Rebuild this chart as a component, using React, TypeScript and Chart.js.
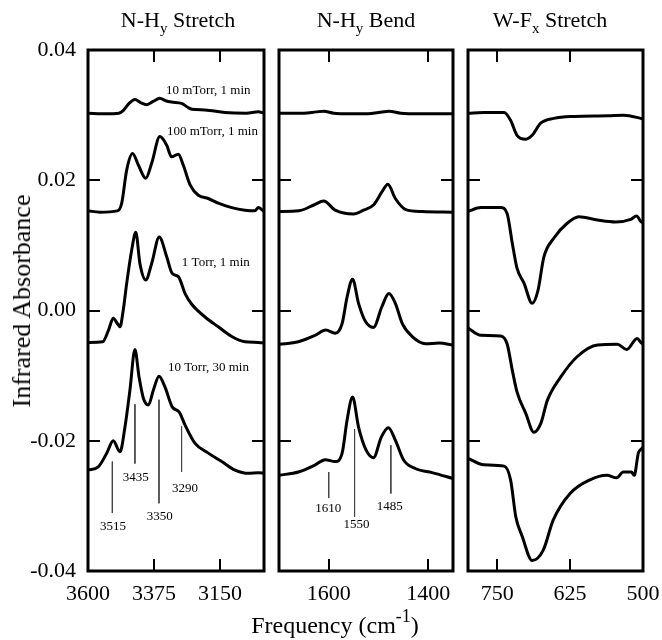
import React, { useEffect, useRef } from 'react';
import { Chart, registerables } from 'chart.js';
Chart.register(...registerables);

const FONT = '"Liberation Serif", "Times New Roman", serif';

// ---- axes ----
const yRange = [-0.04, 0.04];
const yTicks = [0.04, 0.02, 0, -0.02, -0.04];
const yTickLabels = ['0.04', '0.02', '0.00', '-0.02', '-0.04'];

const stretchRange = [3000, 3600];
const stretchTicks = [3600, 3375, 3150];
const bendRange = [1350, 1700];
const bendTicks = [1600, 1400];
const wfRange = [500, 800];
const wfTicks = [750, 625, 500];

// ---- N-Hy stretch spectra [cm-1, absorbance] ----
const stretch10mTorr = [
  [3600, 0.0303], [3540, 0.0302], [3495, 0.0303], [3480, 0.0307], [3460, 0.0318], [3440, 0.0324],
  [3420, 0.0319], [3400, 0.0316], [3378, 0.0321], [3355, 0.0326], [3335, 0.0322], [3315, 0.0320],
  [3281, 0.0318], [3260, 0.0312], [3246, 0.0309], [3201, 0.0308], [3133, 0.0304], [3060, 0.0303],
  [3019, 0.0305], [3000, 0.0303],
];
const stretch100mTorr = [
  [3600, 0.0153], [3560, 0.0151], [3500, 0.0153], [3485, 0.0165], [3468, 0.0216], [3448, 0.0241],
  [3428, 0.0223], [3403, 0.0203], [3383, 0.0226], [3355, 0.0267], [3332, 0.0254], [3315, 0.0236],
  [3292, 0.0240], [3275, 0.0223], [3252, 0.0193], [3224, 0.0177], [3190, 0.0172], [3156, 0.0165],
  [3110, 0.0158], [3065, 0.0154], [3031, 0.0153], [3019, 0.0158], [3000, 0.0152],
];
const stretch1Torr = [
  [3600, -0.0049], [3550, -0.0048], [3530, -0.0030], [3514, -0.0012], [3500, -0.0020], [3491, -0.0025],
  [3480, 0.0000], [3468, 0.0042], [3451, 0.0093], [3437, 0.0120], [3423, 0.0072], [3403, 0.0047],
  [3383, 0.0072], [3357, 0.0113], [3332, 0.0083], [3313, 0.0057], [3292, 0.0052], [3269, 0.0026],
  [3247, 0.0010], [3201, -0.0010], [3156, -0.0025], [3110, -0.0040], [3065, -0.0048], [3019, -0.0049],
  [3000, -0.0050],
];
const stretch10Torr = [
  [3600, -0.0245], [3565, -0.0240], [3536, -0.0219], [3514, -0.0200], [3491, -0.0217], [3474, -0.0179],
  [3457, -0.0122], [3440, -0.0060], [3426, -0.0102], [3411, -0.0135], [3394, -0.0145], [3377, -0.0122],
  [3358, -0.0101], [3338, -0.0117], [3313, -0.0148], [3289, -0.0156], [3269, -0.0176], [3235, -0.0204],
  [3190, -0.0219], [3144, -0.0232], [3099, -0.0245], [3053, -0.0250], [3019, -0.0249], [3000, -0.0250],
];

// ---- N-Hy bend spectra ----
const bend10mTorr = [
  [1700, 0.0303], [1650, 0.0303], [1625, 0.0305], [1610, 0.0306], [1590, 0.0303], [1560, 0.0302],
  [1530, 0.0302], [1500, 0.0304], [1479, 0.0306], [1455, 0.0303], [1420, 0.0302], [1350, 0.0302],
];
const bend100mTorr = [
  [1700, 0.0152], [1660, 0.0153], [1630, 0.0162], [1610, 0.0168], [1587, 0.0154], [1550, 0.0148],
  [1530, 0.0154], [1510, 0.0162], [1493, 0.0182], [1481, 0.0194], [1466, 0.0172], [1445, 0.0155],
  [1412, 0.0152], [1350, 0.0151],
];
const bend1Torr = [
  [1700, -0.0052], [1661, -0.0048], [1627, -0.0038], [1606, -0.0030], [1587, -0.0035], [1573, -0.0020],
  [1563, 0.0021], [1552, 0.0048], [1540, 0.0011], [1526, -0.0017], [1510, -0.0026], [1493, 0.0006],
  [1479, 0.0026], [1466, 0.0011], [1452, -0.0020], [1432, -0.0040], [1405, -0.0051], [1378, -0.0050],
  [1350, -0.0053],
];
const bend10Torr = [
  [1700, -0.0253], [1661, -0.0248], [1627, -0.0237], [1607, -0.0229], [1587, -0.0232], [1573, -0.0219],
  [1563, -0.0168], [1552, -0.0133], [1540, -0.0179], [1525, -0.0214], [1510, -0.0226], [1494, -0.0194],
  [1480, -0.0180], [1466, -0.0199], [1449, -0.0230], [1425, -0.0243], [1392, -0.0249], [1350, -0.0258],
];

// ---- W-Fx stretch spectra ----
const wf10mTorr = [
  [800, 0.0303], [773, 0.0304], [738, 0.0304], [727, 0.0292], [716, 0.0269], [701, 0.0263],
  [690, 0.0269], [675, 0.0288], [653, 0.0295], [618, 0.0298], [560, 0.0299], [533, 0.0300],
  [504, 0.0295], [500, 0.0294],
];
const wf100mTorr = [
  [800, 0.0152], [778, 0.0158], [744, 0.0158], [733, 0.0149], [724, 0.0103], [716, 0.0065],
  [704, 0.0042], [690, 0.0011], [680, 0.0031], [670, 0.0082], [653, 0.0111], [630, 0.0134],
  [610, 0.0144], [578, 0.0139], [547, 0.0136], [521, 0.0140], [511, 0.0145], [503, 0.0136],
  [500, 0.0135],
];
const wf1Torr = [
  [800, -0.0027], [778, -0.0038], [744, -0.0039], [733, -0.0051], [724, -0.0092], [716, -0.0125],
  [701, -0.0158], [687, -0.0187], [675, -0.0173], [664, -0.0138], [641, -0.0102], [613, -0.0071],
  [578, -0.0053], [544, -0.0052], [528, -0.0060], [510, -0.0043], [501, -0.0051], [500, -0.0051],
];
const wf10Torr = [
  [800, -0.0227], [773, -0.0237], [738, -0.0239], [727, -0.0260], [718, -0.0317], [707, -0.0347],
  [690, -0.0384], [671, -0.0368], [654, -0.0322], [625, -0.0281], [591, -0.0260], [562, -0.0253],
  [545, -0.0257], [534, -0.0248], [520, -0.0248], [515, -0.0253], [508, -0.0219], [502, -0.0212],
  [500, -0.0210],
];

// ---- annotations ----
const stretchNotes = ['10 mTorr, 1 min', '100 mTorr, 1 min', '1 Torr, 1 min', '10 Torr, 30 min'];
const stretchNoteX = [3334, 3331, 3280, 3327];
const stretchNoteY = [0.0337, 0.0274, 0.0073, -0.0087];

const stretchPeakLabels = ['3515', '3435', '3350', '3290'];
const stretchPeakX = [3517, 3440, 3358, 3281];
const stretchPeakTop = [-0.0232, -0.0144, -0.0137, -0.0178];
const stretchPeakBottom = [-0.0311, -0.0235, -0.0296, -0.0248];
const stretchPeakLabelX = [3515, 3437, 3355, 3269];
const stretchPeakLabelY = [-0.0332, -0.0256, -0.0317, -0.0273];

const bendPeakLabels = ['1610', '1550', '1485'];
const bendPeakX = [1600, 1548, 1475];
const bendPeakTop = [-0.0248, -0.0182, -0.0207];
const bendPeakBottom = [-0.0288, -0.0317, -0.0281];
const bendPeakLabelX = [1601, 1544, 1477];
const bendPeakLabelY = [-0.0304, -0.0328, -0.0301];

type Panel = {
  range: number[];
  ticks: number[];
  series: number[][][];
  left: number;
  right: number;
  showY: boolean;
  notes?: { text: string[]; x: number[]; y: number[] };
  markers?: { text: string[]; x: number[]; top: number[]; bottom: number[]; lx: number[]; ly: number[] };
};

const W = 662;
const H = 640;
const TOP = 50;
const BOTTOM = 571;

const panels: Panel[] = [
  {
    range: stretchRange, ticks: stretchTicks,
    series: [stretch10mTorr, stretch100mTorr, stretch1Torr, stretch10Torr],
    left: 88, right: 264, showY: true,
    notes: { text: stretchNotes, x: stretchNoteX, y: stretchNoteY },
    markers: { text: stretchPeakLabels, x: stretchPeakX, top: stretchPeakTop, bottom: stretchPeakBottom, lx: stretchPeakLabelX, ly: stretchPeakLabelY },
  },
  {
    range: bendRange, ticks: bendTicks,
    series: [bend10mTorr, bend100mTorr, bend1Torr, bend10Torr],
    left: 279, right: 453, showY: false,
    markers: { text: bendPeakLabels, x: bendPeakX, top: bendPeakTop, bottom: bendPeakBottom, lx: bendPeakLabelX, ly: bendPeakLabelY },
  },
  {
    range: wfRange, ticks: wfTicks,
    series: [wf10mTorr, wf100mTorr, wf1Torr, wf10Torr],
    left: 468, right: 643, showY: false,
  },
];

function framePlugin(p: Panel) {
  return {
    id: 'frame',
    afterDatasetsDraw(chart: any) {
      const { ctx, chartArea: a, scales } = chart;
      const xs = scales.x;
      const ys = scales.y;
      ctx.save();
      ctx.fillStyle = '#000';
      ctx.textBaseline = 'middle';
      if (p.notes) {
        ctx.font = `13px ${FONT}`;
        ctx.textAlign = 'left';
        p.notes.text.forEach((t, i) => {
          ctx.fillText(t, xs.getPixelForValue(p.notes!.x[i]), ys.getPixelForValue(p.notes!.y[i]));
        });
      }
      if (p.markers) {
        ctx.font = `13px ${FONT}`;
        ctx.textAlign = 'center';
        p.markers.text.forEach((t, i) => {
          ctx.fillText(t, xs.getPixelForValue(p.markers!.lx[i]), ys.getPixelForValue(p.markers!.ly[i]));
        });
      }
      ctx.strokeStyle = '#000';
      ctx.lineWidth = 2;
      ctx.beginPath();
      for (const v of p.ticks) {
        const px = Math.round(xs.getPixelForValue(v));
        if (px <= a.left + 3 || px >= a.right - 3) continue;
        ctx.moveTo(px, a.top);
        ctx.lineTo(px, a.top + 12);
        ctx.moveTo(px, a.bottom);
        ctx.lineTo(px, a.bottom - 12);
      }
      for (const v of yTicks) {
        const py = Math.round(ys.getPixelForValue(v));
        if (py <= a.top + 3 || py >= a.bottom - 3) continue;
        ctx.moveTo(a.left, py);
        ctx.lineTo(a.left + 12, py);
        ctx.moveTo(a.right, py);
        ctx.lineTo(a.right - 12, py);
      }
      ctx.stroke();
      ctx.lineWidth = 3;
      ctx.strokeRect(a.left, a.top, a.right - a.left, a.bottom - a.top);
      ctx.restore();
    },
  };
}

function buildChart(canvas: HTMLCanvasElement, p: Panel) {
  const datasets: any[] = p.series.map((s) => ({
    data: s.map(([x, y]) => ({ x, y })),
    borderColor: '#000',
    borderWidth: 3,
    pointRadius: 0,
    showLine: true,
    fill: false,
    cubicInterpolationMode: 'monotone',
    borderJoinStyle: 'round',
    borderCapStyle: 'round',
  }));
  if (p.markers) {
    p.markers.x.forEach((x, i) => {
      datasets.push({
        data: [{ x, y: p.markers!.top[i] }, { x, y: p.markers!.bottom[i] }],
        borderColor: '#444',
        borderWidth: 1,
        pointRadius: 0,
        showLine: true,
        fill: false,
      });
    });
  }
  return new Chart(canvas, {
    type: 'scatter',
    data: { datasets },
    plugins: [framePlugin(p)],
    options: {
      responsive: false,
      animation: false,
      events: [],
      layout: { padding: { left: p.showY ? 0 : p.left, right: W - p.right, top: TOP, bottom: 0 } },
      plugins: { legend: { display: false }, tooltip: { enabled: false } },
      scales: {
        x: {
          type: 'linear',
          min: p.range[0],
          max: p.range[1],
          reverse: true,
          grid: { display: false, drawTicks: false },
          border: { display: false },
          afterBuildTicks: (scale: any) => { scale.ticks = p.ticks.map((v) => ({ value: v })); },
          afterFit: (scale: any) => { scale.height = H - BOTTOM; scale.paddingLeft = 0; scale.paddingRight = 0; },
          ticks: {
            color: '#000',
            padding: 10,
            maxRotation: 0,
            autoSkip: false,
            font: { family: FONT, size: 22 },
            callback: (v: any) => String(v),
          },
        },
        y: {
          type: 'linear',
          min: yRange[0],
          max: yRange[1],
          display: p.showY,
          grid: { display: false, drawTicks: false },
          border: { display: false },
          afterBuildTicks: (scale: any) => { scale.ticks = yTicks.map((v) => ({ value: v })); },
          afterFit: (scale: any) => { if (p.showY) scale.width = p.left; scale.paddingTop = 0; scale.paddingBottom = 0; },
          ticks: {
            color: '#000',
            padding: 12,
            autoSkip: false,
            font: { family: FONT, size: 22 },
            callback: (v: any) => {
              const i = yTicks.findIndex((t) => Math.abs(t - v) < 1e-9);
              return i >= 0 ? yTickLabels[i] : '';
            },
          },
        },
      },
    } as any,
  });
}

const titles = [
  { main: 'N-H', sub: 'y', rest: ' Stretch', cx: 178 },
  { main: 'N-H', sub: 'y', rest: ' Bend', cx: 366 },
  { main: 'W-F', sub: 'x', rest: ' Stretch', cx: 550 },
];

export default function App() {
  const refs = [useRef<HTMLCanvasElement>(null), useRef<HTMLCanvasElement>(null), useRef<HTMLCanvasElement>(null)];
  useEffect(() => {
    const charts = panels.map((p, i) => buildChart(refs[i].current!, p));
    return () => charts.forEach((c) => c.destroy());
  }, []);
  return (
    <div style={{ position: 'absolute', left: 0, top: 0, width: W, height: H, background: '#fff', fontFamily: FONT, color: '#000' }}>
      {panels.map((_, i) => (
        <canvas key={i} ref={refs[i]} width={W} height={H} style={{ position: 'absolute', left: 0, top: 0, width: W, height: H }} />
      ))}
      {titles.map((t, i) => (
        <div key={i} style={{ position: 'absolute', left: t.cx, top: 9, transform: 'translateX(-50%)', fontSize: 22, lineHeight: '22px', whiteSpace: 'nowrap' }}>
          {t.main}
          <span style={{ fontSize: 15, position: 'relative', top: 6 }}>{t.sub}</span>
          {t.rest}
        </div>
      ))}
      <div style={{ position: 'absolute', left: 335, top: 613, transform: 'translateX(-50%)', fontSize: 24, lineHeight: '24px', whiteSpace: 'nowrap' }}>
        Frequency (cm<span style={{ fontSize: 18, position: 'relative', top: -11 }}>-1</span>)
      </div>
      <div style={{ position: 'absolute', left: 22, top: 301, transform: 'translate(-50%, -50%) rotate(-90deg)', fontSize: 26, lineHeight: '26px', whiteSpace: 'nowrap' }}>
        Infrared Absorbance
      </div>
    </div>
  );
}
